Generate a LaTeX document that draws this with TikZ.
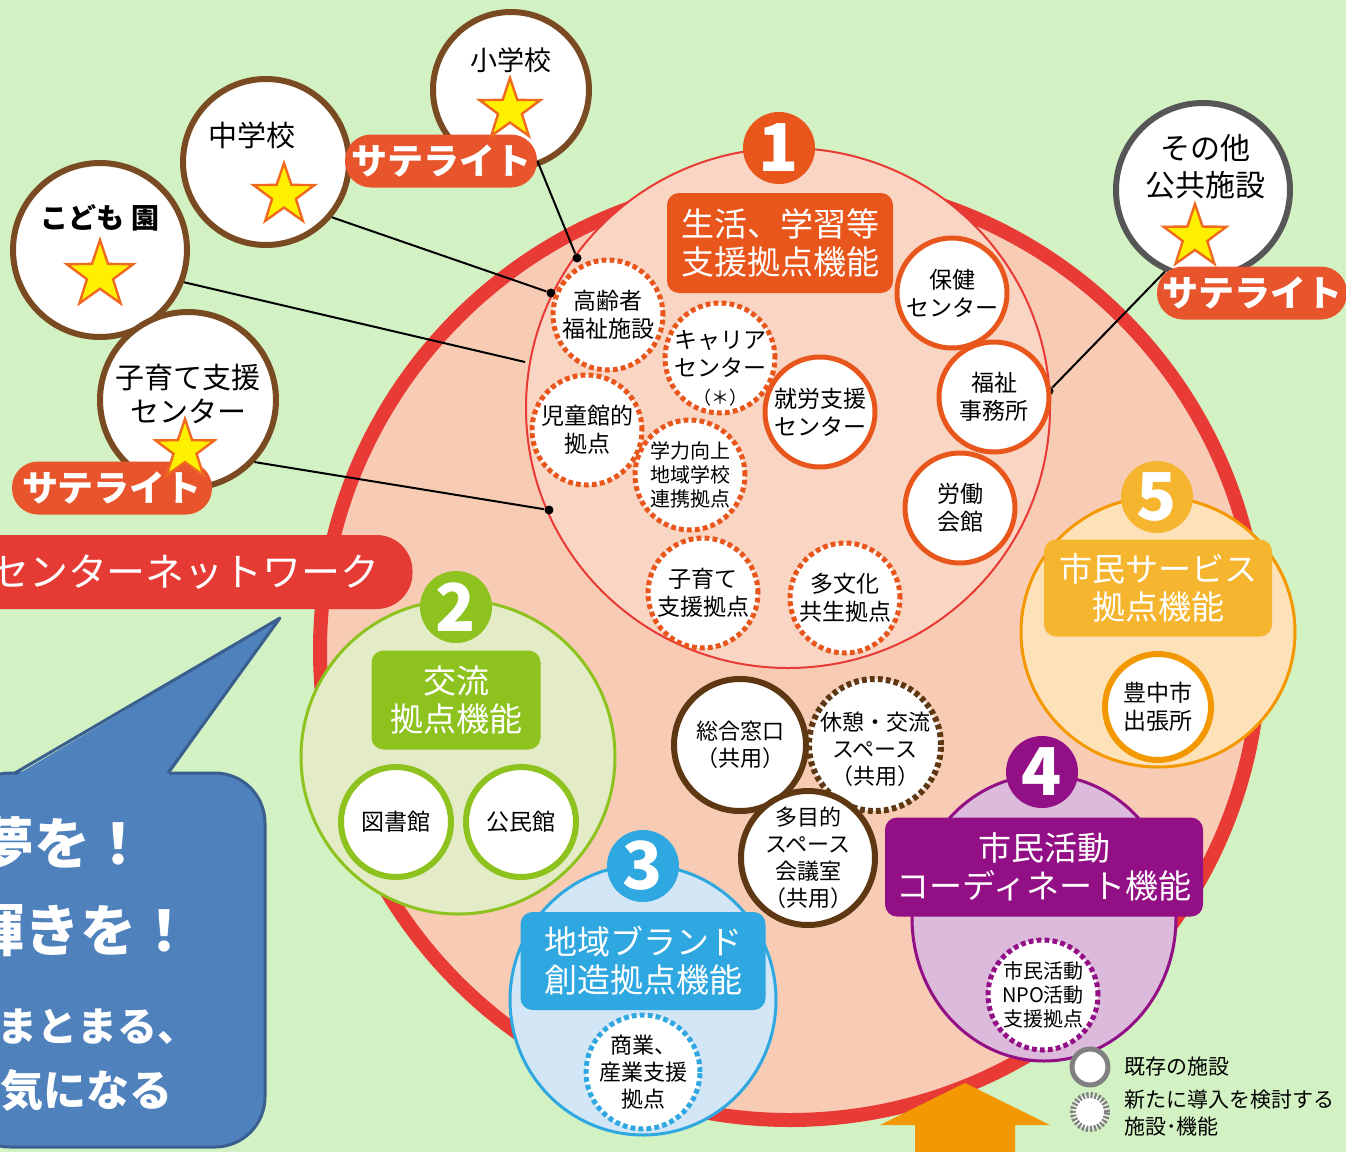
\documentclass[tikz,border=0pt]{standalone}
\usepackage{fontspec}
\setmainfont{Noto Sans CJK JP}
\usetikzlibrary{shapes.geometric}

\definecolor{bggreen}{HTML}{D2F2C3}
\definecolor{ringred}{HTML}{E83B36}
\definecolor{salmon}{HTML}{F8CBB5}
\definecolor{oneorange}{HTML}{E9561B}
\definecolor{twogreen}{HTML}{8DC21F}
\definecolor{twofill}{HTML}{E3ECC7}
\definecolor{threeblue}{HTML}{2FA7E0}
\definecolor{threefill}{HTML}{D2E6F6}
\definecolor{fourpurple}{HTML}{920F86}
\definecolor{fourfill}{HTML}{DBBADB}
\definecolor{fiveorange}{HTML}{F39800}
\definecolor{fivelabel}{HTML}{F6B52F}
\definecolor{fivefill}{HTML}{FDE2B9}
\definecolor{satbrown}{HTML}{7A4B22}
\definecolor{sharebrown}{HTML}{5E3813}
\definecolor{satred}{HTML}{E8552C}
\definecolor{netred}{HTML}{E63A35}
\definecolor{bubblefill}{HTML}{4F81BD}
\definecolor{bubbleline}{HTML}{3A5F8E}
\definecolor{othergray}{HTML}{565656}
\definecolor{staryellow}{HTML}{FFF000}
\definecolor{starorange}{HTML}{EF6A1F}

\begin{document}
\begin{tikzpicture}[x=0.5pt,y=-0.5pt,
  sat/.style={circle, fill=white, line width=3pt, inner sep=0pt},
  sattext/.style={align=center, font=\fontsize{14.5}{17}\selectfont},
  satpill/.style={rounded corners=13pt, fill=satred, text=white, minimum width=96pt,
                  minimum height=26.5pt, inner sep=0pt, font=\fontsize{18}{18}\selectfont\bfseries},
  starmark/.style={star, star points=5, star point ratio=2.55, fill=staryellow,
                   draw=starorange, line width=1.2pt, inner sep=0pt},
  badge/.style={circle, minimum size=36pt, inner sep=0pt, text=white,
                font=\fontsize{33}{33}\selectfont\bfseries},
  grplabel/.style={rounded corners=6pt, inner sep=0pt, text=white, align=center,
                   font=\fontsize{16.5}{19}\selectfont},
  inold/.style={circle, fill=white, line width=2.5pt, inner sep=0pt},
  innew/.style={inold, dash pattern=on 2.4pt off 1.6pt},
  intext/.style={align=center, font=\fontsize{11.5}{14}\selectfont},
  dot/.style={circle, fill=black, minimum size=4.5pt, inner sep=0pt},
  link/.style={line width=1pt},
  bubbletext/.style={anchor=west, text=white, font=\bfseries}]

\useasboundingbox (0,0) rectangle (1346,1152);
\fill[bggreen] (0,0) rectangle (1346,1152);

% network circle and function 1
\draw[ringred, line width=7pt, fill=salmon] (790,650) circle (470);
\draw[ringred, line width=1pt, fill=salmon!80!white] (788,408) ellipse (262 and 260);
\node[rounded corners=18pt, fill=netred, text=white, minimum width=227.5pt,
      minimum height=37pt, inner sep=0pt, font=\fontsize{19.5}{19.5}\selectfont]
      (net) at (185,572) {センターネットワーク};

% satellites
\node[sat, draw=satbrown, minimum size=78pt,
      label={[sattext, font=\fontsize{13.5}{16}\selectfont, yshift=15pt]center:小学校}] (sho) at (511,90) {};
\node[sat, draw=satbrown, minimum size=83pt,
      label={[sattext, xshift=-7pt, yshift=13.5pt]center:中学校}] (chu) at (266,162) {};
\node[sat, draw=satbrown, minimum size=87pt,
      label={[sattext, font=\fontsize{14}{16}\selectfont\bfseries, yshift=16pt]center:こども 園}] (kodomo) at (100,250) {};
\node[sat, draw=satbrown, minimum size=88pt,
      label={[sattext, yshift=3pt]center:{子育て支援\\センター}}] (kosodate) at (188,400) {};
\node[sat, draw=othergray, minimum size=87pt,
      label={[sattext, font=\fontsize{15}{18.5}\selectfont, xshift=1pt, yshift=11.5pt]center:{その他\\公共施設}}] (other) at (1203,190) {};
\node[satpill] (sat1) at (441,161) {サテライト};
\node[satpill, minimum width=100pt] (sat2) at (112,488) {サテライト};
\node[satpill, minimum width=95pt] (sat3) at (1252,293) {サテライト};
\foreach \n/\x/\y/\r in {star1/510/110/32, star2/284/195/32, star3/100/275/35,
                         star4/185/450/31, star5/1195/237/33}
    \node[starmark, minimum size=\r pt] (\n) at (\x,\y) {};

% links to function 1
\node[dot] (d1) at (577,258) {};
\node[dot] (d2) at (551,293) {};
\coordinate (d3) at (525,362);
\node[dot] (d4) at (549,510) {};
\node[dot] (d5) at (1049,391) {};
\draw[link] (sat1.east) -- (d1);
\draw[link] (chu.-40) -- (d2);
\draw[link] (kodomo.-21) -- (d3);
\draw[link] (kosodate.-43) -- (d4);
\draw[link] (other.-115) -- (d5);

% function 2
\draw[twogreen, line width=1.5pt, fill=twofill] (458,757) circle (157);
\node[badge, fill=twogreen] (b2) at (456,607) {2};
\node[grplabel, fill=twogreen, minimum width=84.5pt, minimum height=49.5pt] (l2) at (456,700) {交流\\拠点機能};
\foreach \n/\x/\t in {tosho/396/図書館, komin/521/公民館}
    \node[inold, draw=twogreen, line width=3pt, minimum size=55pt,
          font=\fontsize{11.5}{14}\selectfont] (\n) at (\x,822) {\t};

% function 3
\draw[threeblue, line width=1.5pt, fill=threefill] (643,1000) ellipse (133 and 135);
\node[badge, fill=threeblue] (b3) at (643,866) {3};
\node[grplabel, fill=threeblue, minimum width=122.5pt, minimum height=49pt] (l3) at (643,961) {地域ブランド\\創造拠点機能};
\node[innew, draw=threeblue, minimum size=57pt,
      label={[intext, font=\fontsize{11}{13.5}\selectfont]center:{商業、\\産業支援\\拠点}}] (shogyo) at (643,1072) {};

% function 4
\draw[fourpurple, line width=1.5pt, fill=fourfill] (1044,918) ellipse (132 and 143);
\node[badge, fill=fourpurple] (b4) at (1042,772) {4};
\node[grplabel, fill=fourpurple, minimum width=159pt, minimum height=49.5pt] (l4) at (1044,867) {市民活動\\コーディネート機能};
\node[innew, draw=fourpurple, minimum size=55pt,
      label={[intext, font=\fontsize{10}{12}\selectfont]center:{市民活動\\NPO活動\\支援拠点}}] (npo) at (1043,995) {};

% function 5
\draw[fiveorange, line width=1.5pt, fill=fivefill] (1158,632) ellipse (137 and 135);
\node[badge, fill=fivelabel] (b5) at (1157,497) {5};
\node[grplabel, fill=fivelabel, minimum width=114pt, minimum height=48.5pt] (l5) at (1158,588) {市民サービス\\拠点機能};
\node[inold, draw=fiveorange, line width=3pt, minimum size=53pt,
      label={[intext]center:{豊中市\\出張所}}] (shutcho) at (1158,707) {};

% shared spaces
\node[inold, draw=sharebrown, line width=3pt, minimum size=66pt,
      label={[intext, font=\fontsize{11}{13.5}\selectfont]center:{総合窓口\\（共用）}}] (madoguchi) at (740,745) {};
\node[innew, draw=sharebrown, line width=3pt, minimum size=66pt,
      label={[intext, font=\fontsize{11}{13.5}\selectfont, yshift=-2pt]center:{休憩・交流\\スペース\\（共用）}}] (kyukei) at (875,745) {};
\node[inold, draw=sharebrown, line width=3pt, minimum size=67pt,
      label={[intext, font=\fontsize{11}{13.5}\selectfont]center:{多目的\\スペース\\会議室\\（共用）}}] (tamokuteki) at (808,858) {};

% function 1 facilities
\node[badge, fill=oneorange] (b1) at (779,148) {1};
\node[grplabel, fill=oneorange, minimum width=113pt, minimum height=50pt] (l1) at (780,243) {生活、学習等\\支援拠点機能};
\foreach \n/\x/\y/\t in {koreisha/608/315/{高齢者\\福祉施設},
                         jidokan/587/430/{児童館的\\拠点},
                         kosodatekyoten/703/593/{子育て\\支援拠点},
                         tabunka/845/598/{多文化\\共生拠点}}
    \node[innew, draw=oneorange, minimum size=55pt, label={[intext]center:\t}] (\n) at (\x,\y) {};
\node[innew, draw=oneorange, minimum size=55pt,
      label={[intext, yshift=-5pt]center:{キャリア\\センター\\{\fontsize{9}{11}\selectfont（＊）}}}] (career) at (720,358) {};
\node[innew, draw=oneorange, minimum size=55pt,
      label={[intext, font=\fontsize{10}{12}\selectfont]center:{学力向上\\地域学校\\連携拠点}}] (gakuryoku) at (690,475) {};
\foreach \n/\x/\y/\t in {shuro/820/412/{就労支援\\センター},
                         hoken/952/293/{保健\\センター},
                         fukushi/994/397/{福祉\\事務所},
                         rodo/960/508/{労働\\会館}}
    \node[inold, draw=oneorange, minimum size=55pt, label={[intext]center:\t}] (\n) at (\x,\y) {};

% speech bubble
\draw[bubbleline, line width=1.5pt, fill=bubblefill, rounded corners=25pt] (-40,773) rectangle (265,1147);
\fill[bubblefill] (15,776) -- (280,618) -- (168,776) -- cycle;
\draw[bubbleline, line width=1.5pt, line join=round] (15,773) -- (280,618) -- (168,773);
\node[bubbletext, font=\fontsize{28}{28}\selectfont\bfseries] (yume) at (-29,843) {夢を！};
\node[bubbletext, font=\fontsize{28}{28}\selectfont\bfseries] (kagayaki) at (-39,930) {輝きを！};
\node[bubbletext, font=\fontsize{20}{20}\selectfont\bfseries] (matomaru) at (-10,1027) {まとまる、};
\node[bubbletext, font=\fontsize{21.5}{21.5}\selectfont\bfseries] (genki) at (-7,1090) {気になる};

% arrow and legend
\fill[fiveorange] (880,1125) -- (965,1083) -- (1050,1125) -- (1015,1125) -- (1015,1160)
                  -- (915,1160) -- (915,1125) -- cycle;
\node[inold, draw=gray, minimum size=18pt] (lgold) at (1090,1067) {};
\node[inold, draw=gray, line width=3pt, dash pattern=on 1.1pt off 0.9pt, minimum size=17pt] (lgnew) at (1090,1112) {};
\node[anchor=west, inner sep=0pt, font=\fontsize{10.5}{13.5}\selectfont] (lgoldtext) at (1124,1067) {既存の施設};
\node[anchor=west, inner sep=0pt, align=left, font=\fontsize{10.5}{13.5}\selectfont] (lgnewtext) at (1124,1113) {新たに導入を検討する\\施設･機能};
\end{tikzpicture}
\end{document}
